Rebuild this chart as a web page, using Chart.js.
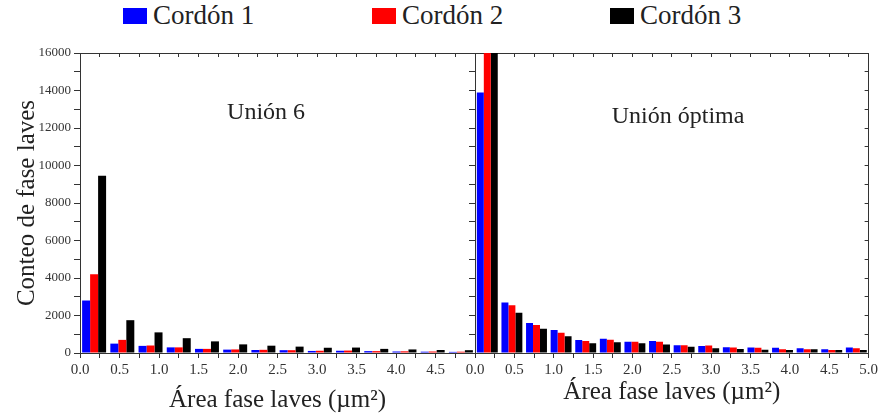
<!DOCTYPE html>
<html>
<head>
<meta charset="utf-8">
<script src="https://cdn.jsdelivr.net/npm/chart.js@4.4.1/dist/chart.umd.min.js"></script>
<style>
  html, body { margin: 0; padding: 0; background: #fff; }
  #wrap { position: relative; width: 881px; height: 419px; overflow: hidden; }
  .panel { position: absolute; top: 0; height: 419px; }
  #p1 { left: 0; width: 480px; }
  #p2 { left: 440px; width: 441px; }
  #legend { position: absolute; top: 0; left: 0; width: 881px; height: 34px;
            font-family: 'Liberation Serif', serif; font-size: 27px; color: #222; }
  .item { position: absolute; top: 0; height: 31px; display: flex; align-items: center; white-space: nowrap; }
  .sw { width: 24px; height: 16px; margin-right: 6px; }
</style>
</head>
<body>
<div id="wrap">
  <div id="legend"></div>
  <div class="panel" id="p1"><canvas id="chartU6"></canvas></div>
  <div class="panel" id="p2"><canvas id="chartOpt"></canvas></div>
</div>
<script>
'use strict';

// ── Data ─────────────────────────────────────────────────────────
const seriesNames  = ['Cordón 1', 'Cordón 2', 'Cordón 3'];
const seriesColors = ['#0000FF', '#FF0000', '#000000'];

// Unión 6: 14 bins over 0–5 µm²
const binsU6 = ['0.18','0.54','0.89','1.25','1.61','1.96','2.32','2.68','3.04','3.39','3.75','4.11','4.46','4.82'];
const u6c1 = [2800, 500, 380, 300, 220, 180, 160, 150, 110, 120, 100, 80, 70, 60];
const u6c2 = [4200, 700, 400, 300, 220, 190, 170, 150, 120, 130, 100, 90, 80, 70];
const u6c3 = [9450, 1750, 1100, 790, 620, 460, 390, 340, 280, 290, 220, 190, 160, 150];

// Unión óptima: 16 bins over 0–5 µm² (first red/black bars run off the top)
const binsOpt = ['0.16','0.47','0.78','1.09','1.41','1.72','2.03','2.34','2.66','2.97','3.28','3.59','3.91','4.22','4.53','4.84'];
const optc1 = [13900, 2700, 1600, 1230, 700, 760, 600, 640, 420, 370, 310, 300, 280, 250, 200, 300];
const optc2 = [17000, 2550, 1500, 1080, 640, 710, 600, 600, 420, 400, 300, 280, 200, 200, 160, 250];
const optc3 = [17000, 2150, 1300, 900, 520, 580, 520, 460, 340, 260, 210, 170, 160, 200, 160, 160];

// Tick labels
const xTicksU6  = ['0.0','0.5','1.0','1.5','2.0','2.5','3.0','3.5','4.0','4.5'];
const xTicksOpt = ['0.0','0.5','1.0','1.5','2.0','2.5','3.0','3.5','4.0','4.5','5.0'];
const yTicks    = [0, 2000, 4000, 6000, 8000, 10000, 12000, 14000, 16000];

const SERIF = "'Liberation Serif', 'Times New Roman', serif";
const INK = '#333';

// ── Legend ───────────────────────────────────────────────────────
const legendLeft = [123, 372, 610];
const legendEl = document.getElementById('legend');
seriesNames.forEach((name, i) => {
  const it = document.createElement('div');
  it.className = 'item';
  it.style.left = legendLeft[i] + 'px';
  it.innerHTML = `<span class="sw" style="background:${seriesColors[i]}"></span><span>${name}</span>`;
  legendEl.appendChild(it);
});

// ── Panel title plugin ───────────────────────────────────────────
const panelTitle = {
  id: 'panelTitle',
  afterDatasetsDraw(chart, args, o) {
    if (!o.text) return;
    const { ctx, chartArea: a } = chart;
    ctx.save();
    ctx.font = `24px ${SERIF}`;
    ctx.fillStyle = '#222';
    ctx.textAlign = 'center';
    ctx.textBaseline = 'middle';
    ctx.fillText(o.text, a.left + a.width * o.fx, o.y);
    ctx.restore();
  }
};

// ── Chart builder ────────────────────────────────────────────────
function buildPanel(id, cats, series, cfg) {
  const datasets = series.map((d, i) => ({
    label: seriesNames[i], data: d,
    backgroundColor: seriesColors[i], borderWidth: 0,
    categoryPercentage: 0.85, barPercentage: 1,
    xAxisID: 'x', yAxisID: 'y'
  }));

  const xLabel = v => {
    const s = v.toFixed(1);
    return (Math.abs(v * 2 - Math.round(v * 2)) < 1e-9 && cfg.xTicks.includes(s)) ? s : '';
  };
  const yLabel = v => (cfg.showY && yTicks.includes(v)) ? String(v) : '';

  return new Chart(document.getElementById(id), {
    type: 'bar',
    data: { labels: cats, datasets },
    options: {
      responsive: true, maintainAspectRatio: false, animation: false,
      layout: { padding: cfg.padding },
      plugins: {
        legend: { display: false },
        tooltip: { enabled: false },
        panelTitle: { text: cfg.title, fx: cfg.fx, y: cfg.ty }
      },
      scales: {
        x: { type: 'category', display: false, offset: true },
        xb: {
          type: 'linear', position: 'bottom', min: 0, max: 5, offset: false,
          ticks: { stepSize: 0.25, autoSkip: false, maxRotation: 0, padding: 3,
                   color: INK, font: { family: SERIF, size: 15 }, callback: xLabel },
          grid: { drawOnChartArea: false, offset: false, tickLength: 5, color: INK },
          border: { display: true, color: INK, width: 1 },
          title: { display: true, text: 'Área fase laves (µm²)', color: '#222',
                   font: { family: SERIF, size: 25 }, padding: { top: 0, bottom: cfg.xTitlePad } },
          afterFit: s => { s.height = 66; }
        },
        xt: {
          type: 'linear', position: 'top', min: 0, max: 5, offset: false,
          ticks: { display: false, stepSize: 0.25 },
          grid: { drawOnChartArea: false, offset: false, tickLength: -4, color: INK },
          border: { display: true, color: INK, width: 1 },
          afterFit: s => { s.height = 0; }
        },
        y: {
          position: 'left', min: 0, max: 16000,
          ticks: { stepSize: 1000, autoSkip: false, padding: 3, color: INK,
                   font: { family: SERIF, size: 13 }, callback: yLabel },
          grid: { drawOnChartArea: false, tickLength: 6, color: INK },
          border: { display: true, color: INK, width: 1 },
          title: { display: cfg.showY, text: 'Conteo de fase laves', color: '#222',
                   font: { family: SERIF, size: 25 }, padding: { top: 12, bottom: 0 } },
          afterFit: s => { s.width = cfg.yWidth; }
        },
        yr: {
          position: 'right', min: 0, max: 16000,
          ticks: { display: false, stepSize: 1000 },
          grid: { drawOnChartArea: false, tickLength: -4, color: INK },
          border: { display: true, color: INK, width: 1 },
          afterFit: s => { s.width = 0; }
        }
      }
    },
    plugins: [panelTitle]
  });
}

buildPanel('chartU6', binsU6, [u6c1, u6c2, u6c3], {
  xTicks: xTicksU6, showY: true, yWidth: 80,
  padding: { left: 0, right: 5, top: 53, bottom: 0 },
  xTitlePad: 4, title: 'Unión 6', fx: 0.471, ty: 113
});

buildPanel('chartOpt', binsOpt, [optc1, optc2, optc3], {
  xTicks: xTicksOpt, showY: false, yWidth: 35,
  padding: { left: 0, right: 11, top: 53, bottom: 0 },
  xTitlePad: 12, title: 'Unión óptima', fx: 0.516, ty: 117
});
</script>
</body>
</html>
